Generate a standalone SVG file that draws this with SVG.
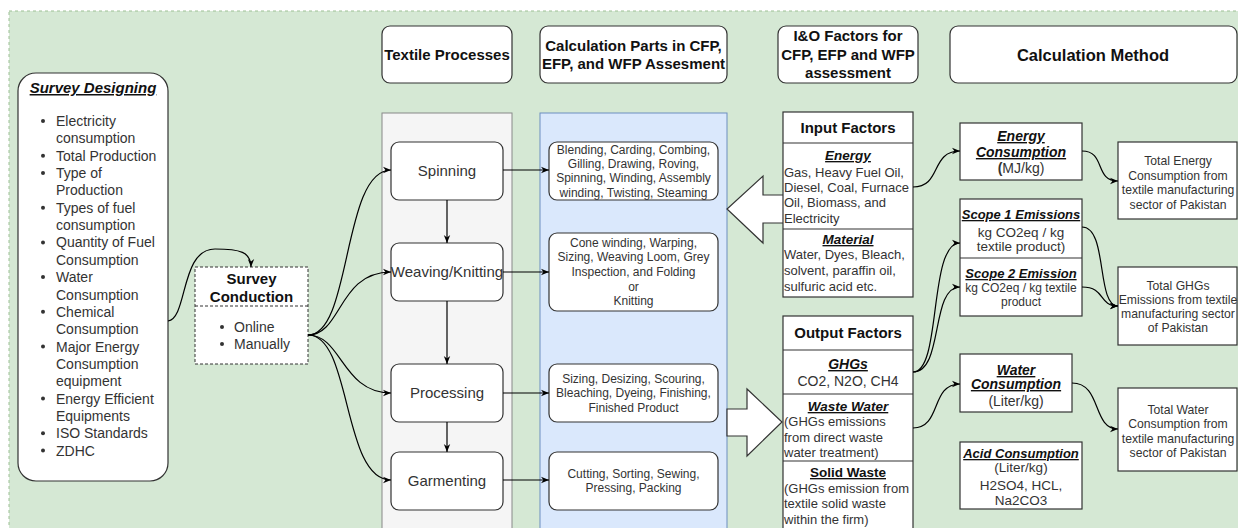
<svg xmlns="http://www.w3.org/2000/svg" width="1238" height="528" viewBox="0 0 1238 528">
<defs>
<marker id="arr" viewBox="0 0 10 10" refX="10" refY="5" markerWidth="8" markerHeight="8" markerUnits="userSpaceOnUse" orient="auto">
<path d="M0,1 L10,5 L0,9 L3,5 z" fill="#000"/>
</marker>
<style>
text{font-family:"Liberation Sans",Arial,sans-serif;fill:#333}
.b{font-weight:bold;fill:#111}
.bi{font-weight:bold;font-style:italic;text-decoration:underline;fill:#111}
.bu{font-weight:bold;text-decoration:underline;fill:#111}
.c{text-anchor:middle}
.box{fill:#fff;stroke:#333;stroke-width:1.2}
.hdr{fill:#fff;stroke:#333;stroke-width:1.2}
.conn path{fill:none;stroke:#000;stroke-width:1.2;marker-end:url(#arr)}
.blk{fill:#fff;stroke:#333;stroke-width:1.2}
</style>
</defs>
<rect x="0" y="0" width="1238" height="528" fill="#fff"/>
<rect x="9" y="11" width="1250" height="540" fill="#d5e8d4" stroke="#9dbf94" stroke-dasharray="3 3"/>

<g id="lane-textile">
<rect x="382" y="113" width="130" height="440" fill="#f5f5f5" stroke="#888"/>
</g>
<g id="lane-calc">
<rect x="540" y="113" width="187" height="440" fill="#dae8fc" stroke="#6c8ebf"/>
</g>

<g id="hdr-textile">
<rect class="hdr" x="382" y="26" width="130" height="57" rx="8"/>
<text class="b c" x="447" y="60" font-size="15">Textile Processes</text>
</g>
<g id="hdr-calc">
<rect class="hdr" x="540" y="26" width="187" height="57" rx="8"/>
<text class="b c" x="633.5" y="51" font-size="15">Calculation Parts in CFP,</text>
<text class="b c" x="633.5" y="69" font-size="15">EFP, and WFP Assesment</text>
</g>
<g id="hdr-io">
<rect class="hdr" x="778" y="26" width="140" height="57" rx="8"/>
<text class="b c" x="848" y="41" font-size="15">I&amp;O Factors for</text>
<text class="b c" x="848" y="60" font-size="15">CFP, EFP and WFP</text>
<text class="b c" x="848" y="78" font-size="15">assessment</text>
</g>
<g id="hdr-method">
<rect class="hdr" x="950" y="26" width="287" height="57" rx="8"/>
<text class="b c" x="1093" y="61" font-size="16.5">Calculation Method</text>
</g>

<g id="survey-designing">
<rect class="box" x="18" y="73" width="150" height="408" rx="18"/>
<text class="bi c" x="93" y="93" font-size="15">Survey Designing</text>
<g fill="#333">
<circle cx="43" cy="121" r="2"/><circle cx="43" cy="155.7" r="2"/><circle cx="43" cy="173" r="2"/><circle cx="43" cy="207.7" r="2"/><circle cx="43" cy="242.4" r="2"/><circle cx="43" cy="277.1" r="2"/><circle cx="43" cy="311.8" r="2"/><circle cx="43" cy="346.5" r="2"/><circle cx="43" cy="398.6" r="2"/><circle cx="43" cy="433.3" r="2"/><circle cx="43" cy="450.6" r="2"/>
</g>
<g font-size="14">
<text x="56" y="126">Electricity</text>
<text x="56" y="143.4">consumption</text>
<text x="56" y="160.7">Total Production</text>
<text x="56" y="178">Type of</text>
<text x="56" y="195.4">Production</text>
<text x="56" y="212.7">Types of fuel</text>
<text x="56" y="230.1">consumption</text>
<text x="56" y="247.4">Quantity of Fuel</text>
<text x="56" y="264.8">Consumption</text>
<text x="56" y="282.1">Water</text>
<text x="56" y="299.5">Consumption</text>
<text x="56" y="316.8">Chemical</text>
<text x="56" y="334.2">Consumption</text>
<text x="56" y="351.5">Major Energy</text>
<text x="56" y="368.9">Consumption</text>
<text x="56" y="386.2">equipment</text>
<text x="56" y="403.6">Energy Efficient</text>
<text x="56" y="420.9">Equipments</text>
<text x="56" y="438.3">ISO Standards</text>
<text x="56" y="455.6">ZDHC</text>
</g>
</g>

<g id="survey-conduction">
<rect x="195" y="267" width="113" height="97" fill="#fff" stroke="#333" stroke-dasharray="3 2"/>
<line x1="195" y1="306" x2="308" y2="306" stroke="#333" stroke-dasharray="3 2"/>
<text class="b c" x="251.5" y="284" font-size="15">Survey</text>
<text class="b c" x="251.5" y="302" font-size="15">Conduction</text>
<circle cx="222" cy="327" r="2" fill="#333"/><circle cx="222" cy="344" r="2" fill="#333"/>
<text x="234" y="332" font-size="14">Online</text>
<text x="234" y="349" font-size="14">Manually</text>
</g>

<g id="proc-spinning"><rect class="box" x="391" y="142" width="112" height="58" rx="8"/><text class="c" x="447" y="176" font-size="15">Spinning</text></g>
<g id="proc-weaving"><rect class="box" x="391" y="243" width="112" height="58" rx="8"/><text class="c" x="447" y="277" font-size="15">Weaving/Knitting</text></g>
<g id="proc-processing"><rect class="box" x="391" y="364" width="112" height="58" rx="8"/><text class="c" x="447" y="398" font-size="15">Processing</text></g>
<g id="proc-garmenting"><rect class="box" x="391" y="452" width="112" height="58" rx="8"/><text class="c" x="447" y="486" font-size="15">Garmenting</text></g>

<g id="calc-spinning"><rect class="box" x="549" y="142" width="169" height="58" rx="8"/>
<g font-size="12"><text class="c" x="633.5" y="154">Blending, Carding, Combing,</text><text class="c" x="633.5" y="168">Gilling, Drawing, Roving,</text><text class="c" x="633.5" y="182">Spinning, Winding, Assembly</text><text class="c" x="633.5" y="197">winding, Twisting, Steaming</text></g></g>
<g id="calc-weaving"><rect class="box" x="549" y="233" width="169" height="78" rx="8"/>
<g font-size="12"><text class="c" x="633.5" y="247">Cone winding, Warping,</text><text class="c" x="633.5" y="261">Sizing, Weaving Loom, Grey</text><text class="c" x="633.5" y="276">Inspection, and Folding</text><text class="c" x="633.5" y="291">or</text><text class="c" x="633.5" y="305">Knitting</text></g></g>
<g id="calc-processing"><rect class="box" x="549" y="364" width="169" height="58" rx="8"/>
<g font-size="12"><text class="c" x="633.5" y="383">Sizing, Desizing, Scouring,</text><text class="c" x="633.5" y="397">Bleaching, Dyeing, Finishing,</text><text class="c" x="633.5" y="412">Finished Product</text></g></g>
<g id="calc-garmenting"><rect class="box" x="549" y="452" width="169" height="58" rx="8"/>
<g font-size="12"><text class="c" x="633.5" y="478">Cutting, Sorting, Sewing,</text><text class="c" x="633.5" y="492">Pressing, Packing</text></g></g>

<g id="block-arrows">
<polygon class="blk" points="785,195 763,195 763,176 727,209 763,243 763,223 785,223"/>
<polygon class="blk" points="727,409 747,409 747,389 782,422 747,456 747,436 727,436"/>
</g>

<g id="input-factors">
<rect class="box" x="783" y="112" width="130" height="185"/>
<line x1="783" y1="143" x2="913" y2="143" stroke="#333" stroke-width="1.2"/>
<line x1="783" y1="229" x2="913" y2="229" stroke="#333" stroke-width="1.2"/>
<text class="b c" x="848" y="133" font-size="15">Input Factors</text>
<text class="bi c" x="848" y="160" font-size="13.5">Energy</text>
<g font-size="13"><text x="784" y="177">Gas, Heavy Fuel Oil,</text><text x="784" y="192">Diesel, Coal, Furnace</text><text x="784" y="207">Oil, Biomass, and</text><text x="784" y="223">Electricity</text></g>
<text class="bi c" x="848" y="244" font-size="13.5">Material</text>
<g font-size="13"><text x="784" y="259">Water, Dyes, Bleach,</text><text x="784" y="275">solvent, paraffin oil,</text><text x="784" y="291">sulfuric acid etc.</text></g>
</g>

<g id="output-factors">
<rect class="box" x="783" y="316" width="130" height="230"/>
<line x1="783" y1="350" x2="913" y2="350" stroke="#333" stroke-width="1.2"/>
<line x1="783" y1="394" x2="913" y2="394" stroke="#333" stroke-width="1.2"/>
<line x1="783" y1="461" x2="913" y2="461" stroke="#333" stroke-width="1.2"/>
<text class="b c" x="848" y="338" font-size="15">Output Factors</text>
<text class="bi c" x="848" y="369" font-size="14">GHGs</text>
<text class="c" x="848" y="386" font-size="14">CO2, N2O, CH4</text>
<text class="bi c" x="848" y="411" font-size="13.5">Waste Water</text>
<g font-size="13"><text x="784" y="426">(GHGs emissions</text><text x="784" y="442">from direct waste</text><text x="784" y="457">water treatment)</text></g>
<text class="bu c" x="848" y="477" font-size="13.5">Solid Waste</text>
<g font-size="13"><text x="784" y="493">(GHGs emission from</text><text x="784" y="508">textile solid waste</text><text x="784" y="524">within the firm)</text></g>
</g>

<g id="energy-consumption">
<rect class="box" x="960" y="123" width="122" height="57"/>
<text class="bi c" x="1021" y="141" font-size="14">Energy</text>
<text class="bi c" x="1021" y="157" font-size="14">Consumption</text>
<text class="c" x="1021" y="173" font-size="14"><tspan font-weight="bold">(</tspan>MJ/kg)</text>
</g>
<g id="scope-emissions">
<rect class="box" x="960" y="199" width="122" height="117"/>
<line x1="960" y1="258" x2="1082" y2="258" stroke="#333" stroke-width="1.2"/>
<text class="bi c" x="1021" y="219" font-size="13">Scope 1 Emissions</text>
<text class="c" x="1021" y="237" font-size="13.5">kg CO2eq / kg</text>
<text class="c" x="1021" y="251" font-size="13.5">textile product)</text>
<text class="bi c" x="1021" y="278" font-size="13">Scope 2 Emission</text>
<text class="c" x="1021" y="292" font-size="12">kg CO2eq / kg textile</text>
<text class="c" x="1021" y="306" font-size="12">product</text>
</g>
<g id="water-consumption">
<rect class="box" x="960" y="354" width="112" height="58"/>
<text class="bi c" x="1016" y="375" font-size="14">Water</text>
<text class="bi c" x="1016" y="389" font-size="14">Consumption</text>
<text class="c" x="1016" y="406" font-size="14">(Liter/kg)</text>
</g>
<g id="acid-consumption">
<rect class="box" x="960" y="442" width="122" height="67"/>
<text class="bi c" x="1021" y="458" font-size="13">Acid Consumption</text>
<text class="c" x="1021" y="472" font-size="13.5">(Liter/kg)</text>
<text class="c" x="1021" y="490" font-size="13.5">H2SO4, HCL,</text>
<text class="c" x="1021" y="505" font-size="13.5">Na2CO3</text>
</g>

<g id="total-energy">
<rect class="box" x="1118" y="142" width="119" height="77"/>
<g font-size="12.2"><text class="c" x="1178" y="165">Total Energy</text><text class="c" x="1178" y="180">Consumption from</text><text class="c" x="1178" y="194">textile manufacturing</text><text class="c" x="1178" y="209">sector of Pakistan</text></g>
</g>
<g id="total-ghgs">
<rect class="box" x="1118" y="267" width="119" height="78"/>
<g font-size="12.2"><text class="c" x="1178" y="290">Total GHGs</text><text class="c" x="1178" y="304">Emissions from textile</text><text class="c" x="1178" y="318">manufacturing sector</text><text class="c" x="1178" y="332">of Pakistan</text></g>
</g>
<g id="total-water">
<rect class="box" x="1118" y="388" width="119" height="83"/>
<g font-size="12.2"><text class="c" x="1178" y="414">Total Water</text><text class="c" x="1178" y="428">Consumption from</text><text class="c" x="1178" y="443">textile manufacturing</text><text class="c" x="1178" y="457">sector of Pakistan</text></g>
</g>

<g id="connectors" class="conn">
<path d="M168,321 C188,318 180,249 215,249 C240,249 251,252 251,267"/>
<path d="M308,335 C352,335 342,170 391,170"/>
<path d="M308,335 C342,335 338,272 391,272"/>
<path d="M308,335 C342,335 342,393 391,393"/>
<path d="M308,335 C352,335 342,480 391,480"/>
<path d="M447,200 L447,243"/>
<path d="M447,301 L447,364"/>
<path d="M447,422 L447,452"/>
<path d="M503,170 L549,170"/>
<path d="M503,272 L549,272"/>
<path d="M503,393 L549,393"/>
<path d="M503,480 L549,480"/>
<path d="M913,187 C942,187 930,151 960,151"/>
<path d="M913,372 C942,372 928,243 960,243"/>
<path d="M913,372 C944,372 930,287 960,287"/>
<path d="M913,428 C942,428 930,384 960,384"/>
<path d="M1082,151 C1106,151 1094,181 1118,181"/>
<path d="M1082,227 C1108,227 1096,306 1118,306"/>
<path d="M1082,287 C1106,287 1098,306 1118,306"/>
<path d="M1072,383 C1102,383 1092,429 1118,429"/>
</g>
</svg>
